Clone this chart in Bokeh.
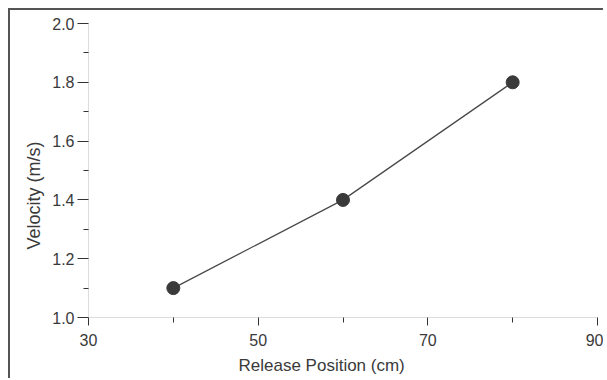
from bokeh.plotting import figure
from bokeh.models import FixedTicker, Range1d, Title, NumeralTickFormatter
from bokeh.embed import file_html
from bokeh.resources import INLINE

# data
release_cm = [40, 60, 80]
velocity_ms = [1.1, 1.4, 1.8]

# ticks
x_major = [30, 50, 70, 90]
x_minor = [40, 60, 80]
y_major = [1.0, 1.2, 1.4, 1.6, 1.8, 2.0]
y_minor = [1.1, 1.3, 1.5, 1.7, 1.9]
y_tick_labels = ["1.0", "1.2", "1.4", "1.6", "1.8", "2.0"]

x_title = "Release Position (cm)"
y_title = "Velocity (m/s)"

TXT = "#3a3a3a"
FONT = "Liberation Sans"

p = figure(width=595, height=370, output_backend="svg", toolbar_location=None,
           x_range=Range1d(30, 90), y_range=Range1d(1.0, 2.0),
           min_border_left=78, min_border_right=8, min_border_top=13, min_border_bottom=62)
p.styles = {"margin-top": "8px", "margin-left": "8px",
            "border-top": "2px solid #555", "border-left": "2px solid #555"}
p.outline_line_color = None
p.grid.visible = False
p.background_fill_color = "white"
p.border_fill_color = "white"

for ax in (p.xaxis, p.yaxis):
    ax.axis_line_color = "#dddddd"
    ax.major_tick_line_color = "#333333"
    ax.minor_tick_line_color = "#333333"
    ax.major_tick_in = 0
    ax.minor_tick_in = 0
    ax.minor_tick_out = 5
    ax.major_label_text_font = FONT
    ax.major_label_text_color = TXT
    ax.major_label_text_font_size = "16px"

p.xaxis.ticker = FixedTicker(ticks=x_major, minor_ticks=x_minor)
p.yaxis.ticker = FixedTicker(ticks=y_major, minor_ticks=y_minor)
p.yaxis.formatter = NumeralTickFormatter(format="0.0")
p.yaxis.major_label_overrides = dict(zip(y_major, y_tick_labels))
p.xaxis.major_tick_out = 8
p.yaxis.major_tick_out = 11
p.xaxis.major_label_standoff = 8
p.yaxis.major_label_standoff = 3

p.line(release_cm, velocity_ms, line_color="#4a4a4a", line_width=1.3)
p.scatter(release_cm, velocity_ms, size=13, fill_color="#3a3a3a", line_color="#3a3a3a")

p.add_layout(Title(text=x_title, align="left", offset=150, text_font=FONT,
                   text_font_size="17px", text_font_style="normal", text_color=TXT,
                   standoff=11), "below")
p.add_layout(Title(text=y_title, align="left", offset=68, text_font=FONT,
                   text_font_size="18px", text_font_style="normal", text_color=TXT,
                   standoff=12), "left")

open("out.html", "w").write(file_html(p, INLINE))
